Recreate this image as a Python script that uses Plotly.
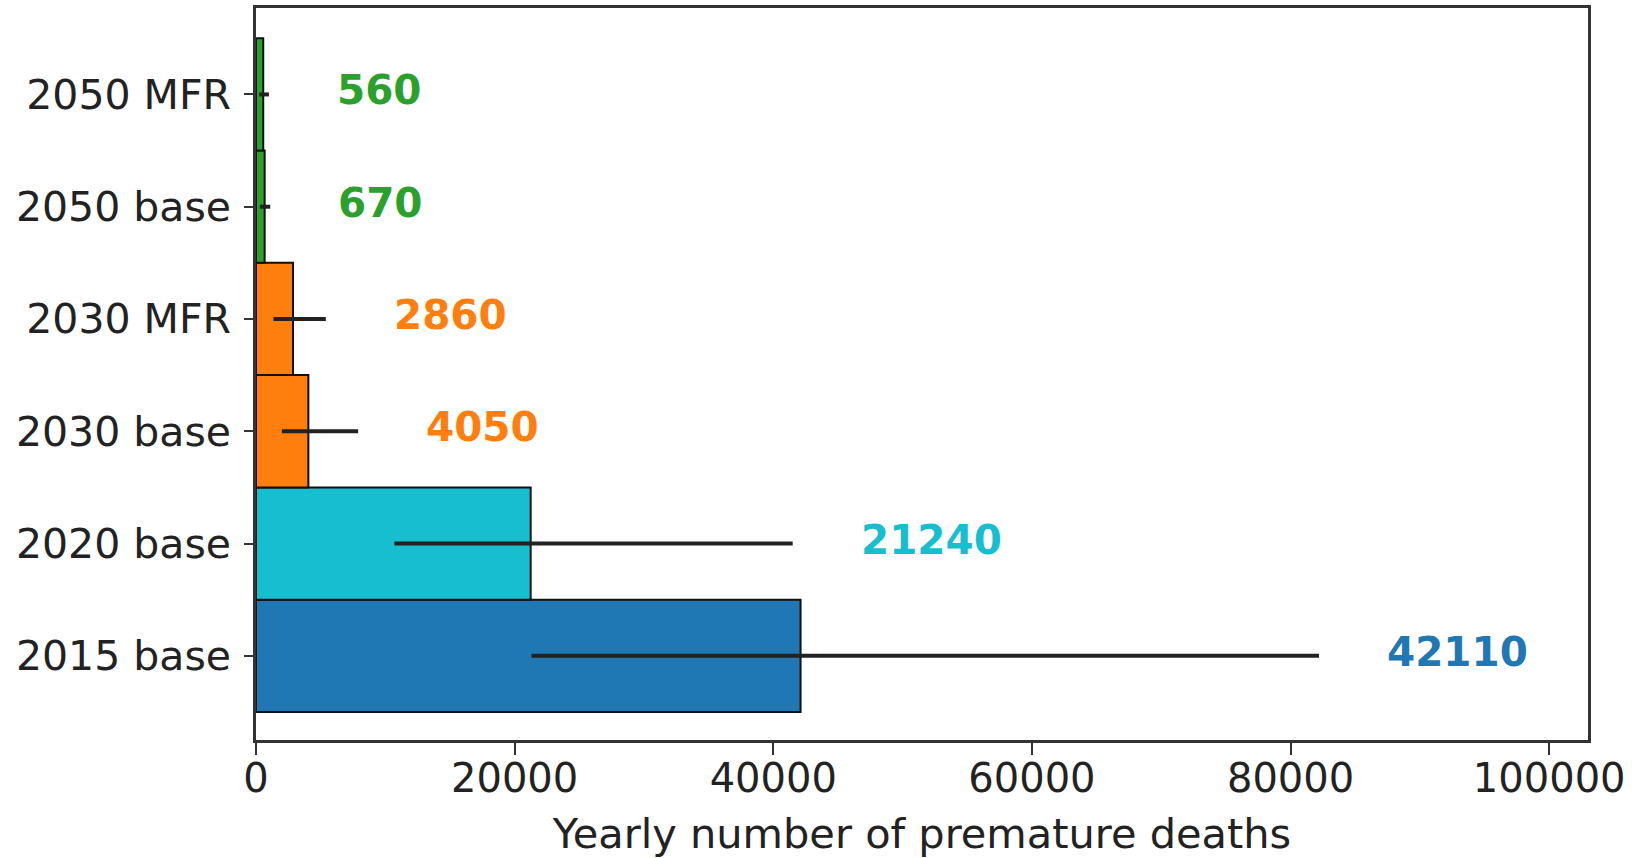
import plotly.graph_objects as go

categories = ["2015 base", "2020 base", "2030 base", "2030 MFR", "2050 base", "2050 MFR"]
values = [42110, 21240, 4050, 2860, 670, 560]
err_low = [21300, 10700, 2000, 1350, 300, 250]
err_high = [82200, 41500, 7900, 5400, 1100, 1000]
colors = ["#1f77b4", "#17becf", "#ff7f0e", "#ff7f0e", "#2ca02c", "#2ca02c"]
label_offset = 5100

FONT = "DejaVu Sans"
TXT = "#222222"

fig = go.Figure()
fig.add_trace(go.Bar(
    y=categories, x=values, orientation="h", width=1.0,
    marker=dict(color=colors, line=dict(color="#111111", width=2)),
    error_x=dict(type="data", symmetric=False,
                 array=[h - v for h, v in zip(err_high, values)],
                 arrayminus=[v - l for v, l in zip(values, err_low)],
                 color="#222222", thickness=4, width=0),
    showlegend=False, hoverinfo="skip",
))

for c, v, h, col in zip(categories, values, err_high, colors):
    fig.add_annotation(x=h + label_offset, y=c, text=f"<b>{v}</b>", showarrow=False,
                       xanchor="left", yanchor="middle", yshift=4,
                       font=dict(family=FONT, size=40.5, color=col))

fig.update_layout(
    width=1632, height=858,
    margin=dict(l=256, r=44, t=8, b=118),
    paper_bgcolor="white", plot_bgcolor="white",
    font=dict(family=FONT, size=40, color=TXT),
)
fig.update_xaxes(
    range=[0, 103000], tickvals=[0, 20000, 40000, 60000, 80000, 100000],
    ticktext=["0", "20000", "40000", "60000", "80000", "100000"],
    showgrid=False, zeroline=False, automargin=False,
    showline=True, mirror=True, linecolor="#333333", linewidth=2.5,
    ticks="outside", ticklen=12, tickwidth=2, tickcolor="#333333",
    ticklabelstandoff=-11,
    tickfont=dict(family=FONT, size=40, color=TXT),
    title=dict(text="Yearly number of premature deaths", standoff=20,
               font=dict(family=FONT, size=41.5, color=TXT)),
)
fig.update_yaxes(
    type="category", categoryorder="array", categoryarray=categories,
    range=[-0.75, 5.77],
    showgrid=False, zeroline=False, automargin=False,
    showline=True, mirror=True, linecolor="#333333", linewidth=2.5,
    ticks="outside", ticklen=9, tickwidth=2, tickcolor="#333333",
    ticklabelstandoff=5,
    tickfont=dict(family=FONT, size=41, color=TXT),
)

fig.write_html("out.html", config={"displayModeBar": False},
               post_script="document.body.style.margin='0';document.body.style.overflow='hidden';")
